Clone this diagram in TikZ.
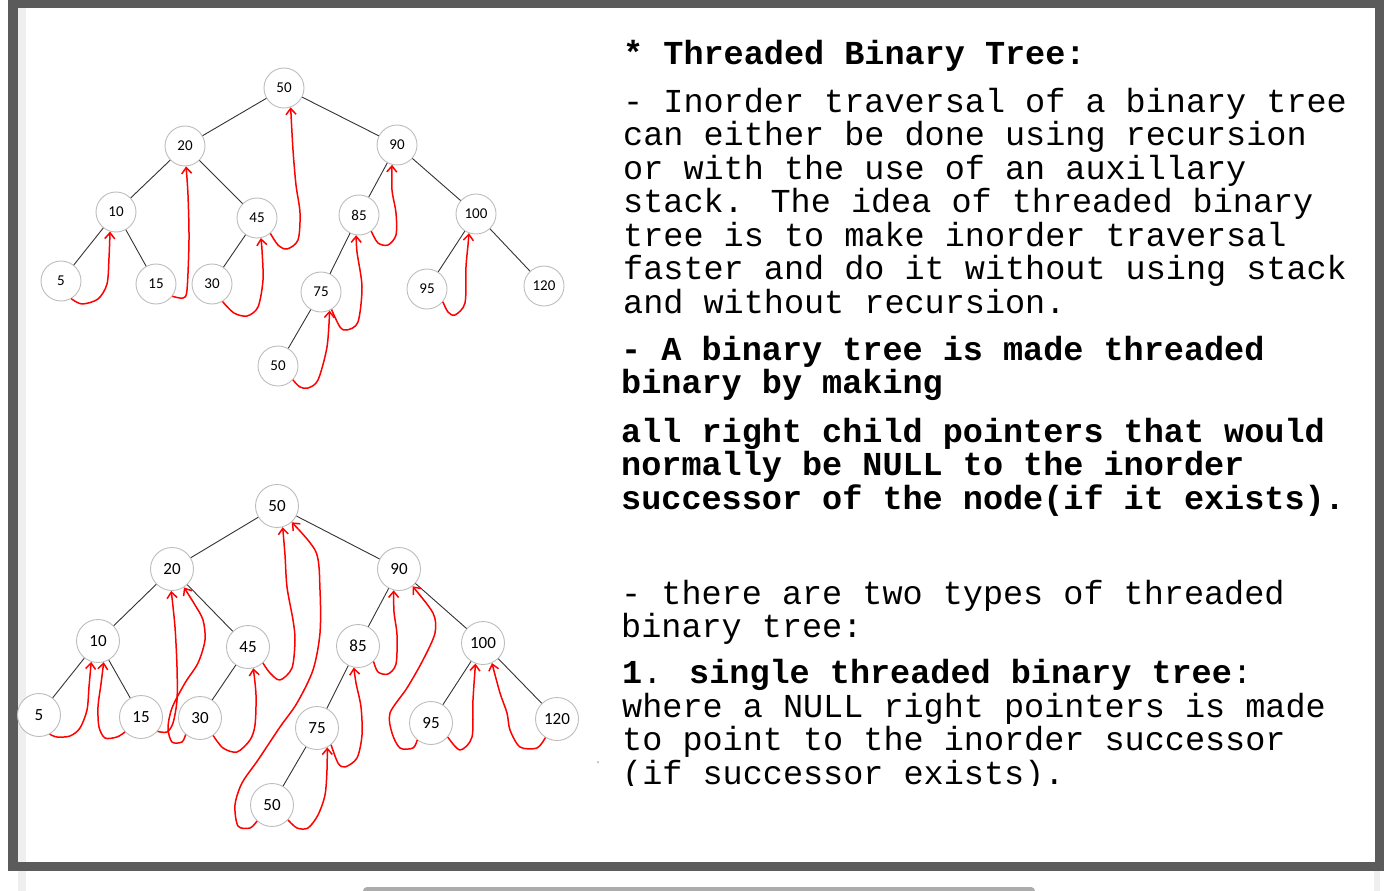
\documentclass[tikz,border=0pt]{standalone}
\usepackage{fontspec}
\usetikzlibrary{arrows.meta}

\newfontfamily\codefont{Liberation Mono}
\newfontfamily\keyfont{Carlito}

\definecolor{framegray}{HTML}{5B5B5B}
\definecolor{stripgray}{HTML}{EFEFEF}
\definecolor{circgray}{HTML}{BDBDBD}
\definecolor{branchgray}{HTML}{333333}

\tikzset{
  unode/.style={circle, draw=circgray, fill=white, line width=0.9pt, minimum size=40pt,
    inner sep=0pt, font=\keyfont\fontsize{15}{17}\selectfont},
  lnode/.style={unode, minimum size=43pt, font=\keyfont\fontsize{17}{19}\selectfont},
  branch/.style={draw=branchgray, line width=0.9pt},
  thread/.style={red, line width=1.5pt, line join=round, -{Straight Barb[length=6pt,width=10pt]}},
  txt/.style={anchor=base west, inner sep=0pt, font=\codefont\fontsize{33.5}{34}\selectfont},
  txtb/.style={txt, font=\codefont\bfseries\fontsize{33.5}{34}\selectfont},
}

\begin{document}
\begin{tikzpicture}[x=1pt, y=-1pt]
    \useasboundingbox (0,0) rectangle (1387,891);
    \fill[white] (0,0) rectangle (1387,891);

    % Frame
    \fill[framegray] (8,0) rectangle (1384,871);
    \fill[white] (18,8) rectangle (1375,862);
    \fill[stripgray] (18,8) rectangle (26,862);
    \fill[stripgray] (18,871) rectangle (26,891);
    \fill[stripgray] (1374,871) rectangle (1380,891);
    \begin{scope}
        \clip (0,0) rectangle (1387,891);
        \fill[gray!65, rounded corners=4pt] (363,887) rectangle (1035,898);
    \end{scope}
    \fill[gray!70] (598,762) circle (1pt);

    % Upper tree
    \foreach \n/\x/\y/\v in {50/284/88/50, 20/185/146/20, 90/397/145/90, 10/116/212/10,
        45/257/218/45, 85/359/215/85, 100/476/214/100, 5/61/281/5, 15/156/284/15,
        30/212/284/30, 75/321/292/75, 95/427/289/95, 120/544/286/120, 50b/278/366/50}
        \node[unode] (u\n) at (\x,\y) {\v};
    \foreach \a/\b in {50/20, 50/90, 20/10, 20/45, 10/5, 10/15, 45/30, 90/85, 90/100,
        85/75, 75/50b, 100/95, 100/120}
        \draw[branch] (u\a) -- (u\b);

    % Upper threads
    \draw[thread] plot[smooth] coordinates {(u5.-60) (82,304) (98,299) (107,284) (109,258) (u10.-107)};
    \draw[thread] plot[smooth] coordinates {(u15.-37) (183,298) (187,290) (189,240) (188,195) (u20.-87)};
    \draw[thread] plot[smooth] coordinates {(u30.-59) (234,313) (247,316) (258,307) (263,280) (262,250) (u45.-79)};
    \draw[thread] plot[smooth] coordinates {(u45.-49) (278,245) (287,249) (298,240) (300,213) (296,185) (293,150) (u50.-71)};
    \draw[thread] plot[smooth] coordinates {(u85.-53) (378,243) (388,245) (396,235) (396,213) (392,190) (u90.-104)};
    \draw[thread] plot[smooth] coordinates {(u95.-39) (448,312) (455,315) (465,303) (466,267) (468,245) (u100.-110)};
    \draw[thread] plot[smooth] coordinates {(u75.-59) (340,327) (347,330) (358,322) (362,287) (357,252) (u85.-98)};
    \draw[thread] plot[smooth] coordinates {(u50b.-43) (300,387) (308,388) (318,380) (327,347) (u75.-65)};

    % Lower tree
    \foreach \n/\x/\y/\v in {50/277/506/50, 20/172/569/20, 90/399/569/90, 10/98/641/10,
        45/248/647/45, 85/358/646/85, 100/483/643/100, 5/39/715/5, 15/141/717/15,
        30/200/718/30, 75/317/728/75, 95/431/723/95, 120/557/719/120, 50b/272/805/50}
        \node[lnode] (l\n) at (\x,\y) {\v};
    \foreach \a/\b in {50/20, 50/90, 20/10, 20/45, 10/5, 10/15, 45/30, 90/85, 90/100,
        85/75, 75/50b, 100/95, 100/120}
        \draw[branch] (l\a) -- (l\b);

    % Lower threads
    \draw[thread] plot[smooth] coordinates {(l5.-61) (57,737) (70,736) (80,728) (87,710) (89,687) (l10.-108)};
    \draw[thread] plot[smooth] coordinates {(l15.-137) (117,737) (105,738) (99,727) (98,707) (101,684) (l10.-75)};
    \draw[thread] plot[smooth] coordinates {(l15.-41) (167,732) (173,723) (177,700) (177,667) (175,627) (l20.-92)};
    \draw[thread] plot[smooth] coordinates {(l30.-131) (182,742) (172,742) (168,728) (172,708) (185,683)
        (198,663) (205,640) (203,620) (195,605) (l20.-57)};
    \draw[thread] plot[smooth] coordinates {(l30.-53) (223,748) (237,752) (250,740) (255,725) (256,695) (l45.-76)};
    \draw[thread] plot[smooth] coordinates {(l45.-47) (270,673) (280,680) (292,668) (295,640) (293,620)
        (287,587) (285,555) (l50.-75)};
    \draw[thread] plot[smooth] coordinates {(l50b.-133) (250,828) (238,826) (235,805) (242,783) (258,760)
        (280,727) (297,703) (313,670) (320,633) (320,590) (316,552) (l50.-48)};
    \draw[thread] plot[smooth] coordinates {(l50b.-43) (297,828) (308,828) (318,815) (325,795) (327,770) (l75.-62)};
    \draw[thread] plot[smooth] coordinates {(l75.-50) (338,763) (345,767) (357,758) (362,735) (361,707) (356,683) (l85.-101)};
    \draw[thread] plot[smooth] coordinates {(l85.-45) (378,672) (388,674) (396,664) (397,635) (394,612) (l90.-104)};
    \draw[thread] plot[smooth] coordinates {(l95.-129) (413,748) (400,748) (392,733) (390,713) (407,688)
        (423,660) (435,633) (433,613) (l90.-52)};
    \draw[thread] plot[smooth] coordinates {(l95.-40) (460,750) (472,737) (473,700) (l100.-110)};
    \draw[thread] plot[smooth] coordinates {(l120.-122) (537,748) (520,747) (510,730) (507,713) (500,693) (l100.-66)};

    % Notes
    \node[txtb] (head) at (623,65) {* Threaded Binary Tree:};
    \foreach \y/\t [count=\i] in {112/{- Inorder traversal of a binary tree},
        145.5/{can either be done using recursion}, 179/{or with the use of an auxillary},
        212.5/{stack. The idea of threaded binary}, 246/{tree is to make inorder traversal},
        279.5/{faster and do it without using stack}, 313/{and without recursion.}}
        \node[txt] (ia\i) at (623,\y) {\t};
    \foreach \y/\t [count=\i] in {360/{- A binary tree is made threaded}, 393.5/{binary by making}}
        \node[txtb] (ib\i) at (621,\y) {\t};
    \foreach \y/\t [count=\i] in {442/{all right child pointers that would},
        475.5/{normally be NULL to the inorder}, 509/{successor of the node(if it exists).}}
        \node[txtb] (ic\i) at (621,\y) {\t};
    \foreach \y/\t [count=\i] in {604/{- there are two types of threaded}, 637/{binary tree:}}
        \node[txt] (id\i) at (621,\y) {\t};
    \begin{scope}
        \clip (600,650) rectangle (1370,785);
        \foreach \y/\t [count=\i] in {683/{\textbf{1}. \textbf{single threaded binary tree}:},
            717/{where a NULL right pointers is made}, 750.5/{to point to the inorder successor},
            784/{(if successor exists).}}
            \node[txt] (ie\i) at (622,\y) {\t};
    \end{scope}
\end{tikzpicture}
\end{document}
